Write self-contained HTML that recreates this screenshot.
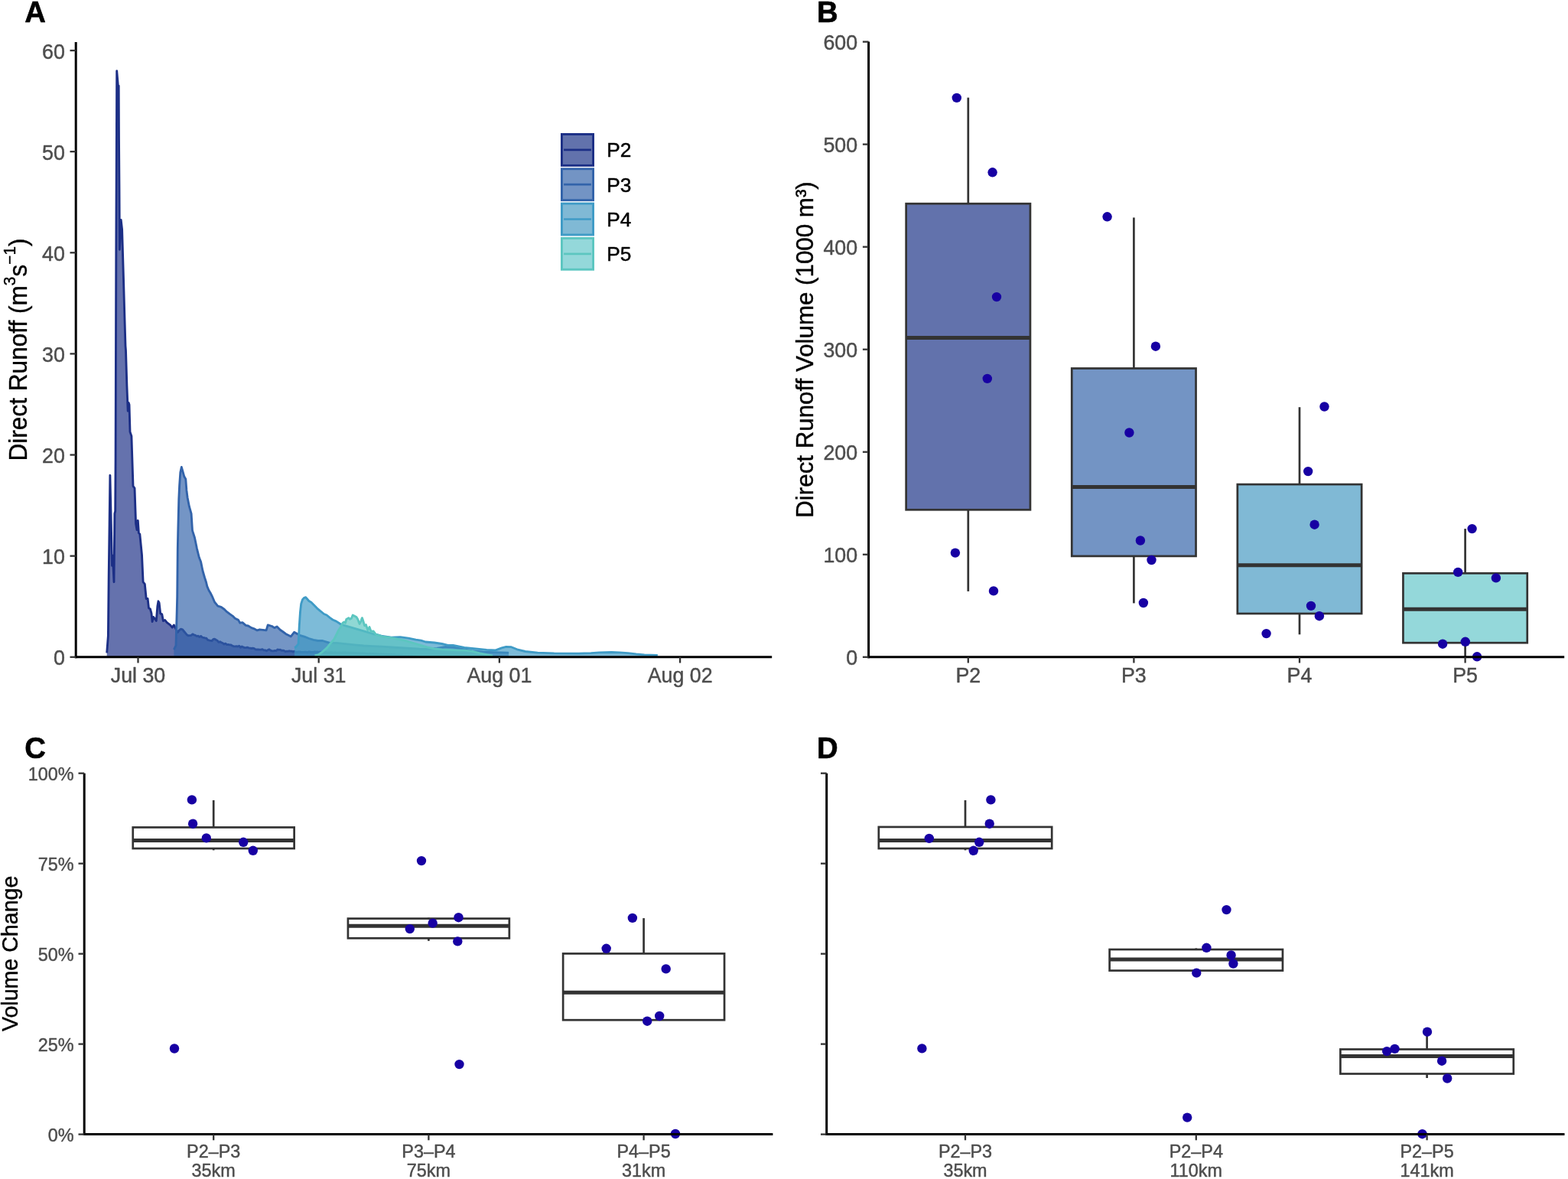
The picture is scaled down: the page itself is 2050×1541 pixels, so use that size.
<!DOCTYPE html>
<html><head><meta charset="utf-8"><title>Direct runoff figure</title>
<style>
html,body{margin:0;padding:0;background:#ffffff;}
svg{display:block;}
text{font-family:'Liberation Sans', Arial, Helvetica, sans-serif;}
</style></head>
<body>
<svg width="2050" height="1541" viewBox="0 0 2050 1541">
<rect x="0" y="0" width="2050" height="1541" fill="#ffffff"/>
<text x="32.30" y="29.20" font-size="38.3" text-anchor="start" fill="#000" stroke="#000" stroke-width="0.6" stroke-linejoin="round" font-weight="bold" >A</text>
<text x="1068.00" y="29.20" font-size="38.3" text-anchor="start" fill="#000" stroke="#000" stroke-width="0.6" stroke-linejoin="round" font-weight="bold" >B</text>
<text x="32.30" y="990.60" font-size="38.3" text-anchor="start" fill="#000" stroke="#000" stroke-width="0.6" stroke-linejoin="round" font-weight="bold" >C</text>
<text x="1068.00" y="990.60" font-size="38.3" text-anchor="start" fill="#000" stroke="#000" stroke-width="0.6" stroke-linejoin="round" font-weight="bold" >D</text>
<polygon points="139.7,858.8 139.7,853.3 141.4,831.2 142.2,753.0 143.1,685.0 143.9,621.3 145.3,685.0 146.5,739.4 147.3,725.8 149.0,760.7 149.9,671.4 150.7,668.0 151.1,600.0 151.8,340.0 152.7,92.7 154.3,111.2 155.2,112.0 155.5,181.2 156.0,248.7 156.4,326.3 158.2,287.5 159.6,300.0 161.6,368.3 162.9,415.0 164.0,452.0 164.5,458.2 165.9,504.5 167.2,537.2 168.1,526.3 169.0,529.0 170.0,564.5 171.9,569.9 174.0,635.3 176.0,638.1 177.6,684.4 179.0,692.6 180.3,680.3 181.4,696.7 182.8,698.0 185.5,725.3 187.1,760.7 189.3,763.4 191.2,782.5 193.1,782.5 194.5,794.8 196.4,796.0 198.0,801.6 199.1,812.5 200.6,806.5 202.1,808.3 204.3,811.5 205.9,792.2 207.0,785.8 208.1,787.9 209.7,801.9 211.8,802.9 213.4,811.5 215.6,810.4 218.2,813.7 222.5,816.9 225.2,820.1 227.4,816.9 229.0,820.1 232.2,826.5 234.3,823.9 236.5,822.2 238.7,822.9 240.8,825.5 242.6,827.7 244.3,829.7 246.1,830.8 248.0,830.6 249.9,830.5 251.8,828.9 253.7,829.8 255.5,830.4 257.3,831.6 259.0,831.2 260.8,832.6 262.6,831.4 264.4,833.0 266.2,833.5 268.0,833.9 269.8,834.2 271.5,836.3 273.3,836.9 275.1,837.3 276.9,837.7 278.7,835.7 280.5,835.1 282.3,836.3 284.1,837.2 285.9,839.4 287.7,838.8 289.5,839.9 291.2,840.5 293.0,842.1 294.8,841.1 296.6,842.6 298.4,842.5 300.2,842.8 302.0,842.9 303.7,843.9 305.5,844.8 307.3,844.8 309.1,844.7 310.9,845.1 312.7,844.2 314.5,846.2 316.3,845.0 318.1,845.9 319.9,846.6 321.7,846.5 323.5,846.2 325.2,846.8 327.0,847.1 328.8,847.5 330.6,847.2 332.4,847.6 334.1,848.8 335.9,849.0 337.7,849.0 339.5,849.1 341.3,849.2 343.1,848.7 344.9,849.9 346.6,849.8 348.4,850.8 350.2,849.6 352.0,848.8 353.8,850.1 355.6,850.8 357.4,850.9 359.2,850.5 361.0,850.7 362.8,849.0 364.5,849.4 366.3,849.1 368.1,850.3 369.9,850.1 371.7,850.7 373.3,851.7 374.9,851.1 376.5,851.4 378.1,850.8 379.8,851.2 381.4,851.1 383.0,852.0 384.6,851.2 386.0,852.0 388.0,852.4 390.0,852.0 392.0,852.0 393.6,852.2 395.2,852.3 396.8,852.3 398.4,852.1 400.0,852.2 401.7,852.7 403.3,852.0 405.0,852.0 406.7,852.3 408.3,852.4 410.0,852.2 411.7,851.8 413.3,852.3 415.0,852.0 416.7,852.6 418.3,852.0 420.0,852.5 421.7,852.8 423.3,852.8 425.0,852.3 426.7,852.7 428.3,853.0 430.0,853.0 431.7,852.7 433.3,852.7 435.0,852.8 436.7,853.2 438.3,852.7 440.0,853.2 441.7,853.0 443.3,852.8 445.0,853.0 446.7,853.3 448.3,852.7 450.0,853.0 451.7,852.7 453.3,853.3 455.0,852.9 456.7,853.4 458.3,853.2 460.0,853.2 461.7,853.1 463.3,853.7 465.0,853.4 466.7,853.6 468.3,853.6 470.0,853.6 471.7,854.1 473.3,853.7 475.0,853.9 476.7,853.9 478.3,854.2 480.0,854.4 481.7,854.6 483.3,854.1 485.0,854.7 486.7,854.3 488.3,854.4 490.0,854.6 491.7,854.6 493.3,855.0 495.0,855.0 496.7,855.3 498.3,854.7 500.0,855.4 501.7,855.0 503.3,855.5 505.0,855.1 506.7,855.9 508.3,855.4 510.0,855.8 511.7,855.5 513.3,856.1 515.0,855.7 516.7,856.0 518.3,856.5 520.0,856.7 521.7,856.4 523.3,856.8 525.0,856.7 526.7,857.2 528.3,857.4 530.0,857.2 531.7,857.8 533.3,857.5 535.0,857.6 536.7,858.0 538.3,857.5 540.0,858.1 541.7,857.9 543.3,858.1 545.0,858.4 545.0,858.8" fill="#1c2f86" fill-opacity="0.68"/>
<polyline points="139.7,853.3 141.4,831.2 142.2,753.0 143.1,685.0 143.9,621.3 145.3,685.0 146.5,739.4 147.3,725.8 149.0,760.7 149.9,671.4 150.7,668.0 151.1,600.0 151.8,340.0 152.7,92.7 154.3,111.2 155.2,112.0 155.5,181.2 156.0,248.7 156.4,326.3 158.2,287.5 159.6,300.0 161.6,368.3 162.9,415.0 164.0,452.0 164.5,458.2 165.9,504.5 167.2,537.2 168.1,526.3 169.0,529.0 170.0,564.5 171.9,569.9 174.0,635.3 176.0,638.1 177.6,684.4 179.0,692.6 180.3,680.3 181.4,696.7 182.8,698.0 185.5,725.3 187.1,760.7 189.3,763.4 191.2,782.5 193.1,782.5 194.5,794.8 196.4,796.0 198.0,801.6 199.1,812.5 200.6,806.5 202.1,808.3 204.3,811.5 205.9,792.2 207.0,785.8 208.1,787.9 209.7,801.9 211.8,802.9 213.4,811.5 215.6,810.4 218.2,813.7 222.5,816.9 225.2,820.1 227.4,816.9 229.0,820.1 232.2,826.5 234.3,823.9 236.5,822.2 238.7,822.9 240.8,825.5 242.6,827.7 244.3,829.7 246.1,830.8 248.0,830.6 249.9,830.5 251.8,828.9 253.7,829.8 255.5,830.4 257.3,831.6 259.0,831.2 260.8,832.6 262.6,831.4 264.4,833.0 266.2,833.5 268.0,833.9 269.8,834.2 271.5,836.3 273.3,836.9 275.1,837.3 276.9,837.7 278.7,835.7 280.5,835.1 282.3,836.3 284.1,837.2 285.9,839.4 287.7,838.8 289.5,839.9 291.2,840.5 293.0,842.1 294.8,841.1 296.6,842.6 298.4,842.5 300.2,842.8 302.0,842.9 303.7,843.9 305.5,844.8 307.3,844.8 309.1,844.7 310.9,845.1 312.7,844.2 314.5,846.2 316.3,845.0 318.1,845.9 319.9,846.6 321.7,846.5 323.5,846.2 325.2,846.8 327.0,847.1 328.8,847.5 330.6,847.2 332.4,847.6 334.1,848.8 335.9,849.0 337.7,849.0 339.5,849.1 341.3,849.2 343.1,848.7 344.9,849.9 346.6,849.8 348.4,850.8 350.2,849.6 352.0,848.8 353.8,850.1 355.6,850.8 357.4,850.9 359.2,850.5 361.0,850.7 362.8,849.0 364.5,849.4 366.3,849.1 368.1,850.3 369.9,850.1 371.7,850.7 373.3,851.7 374.9,851.1 376.5,851.4 378.1,850.8 379.8,851.2 381.4,851.1 383.0,852.0 384.6,851.2 386.0,852.0 388.0,852.4 390.0,852.0 392.0,852.0 393.6,852.2 395.2,852.3 396.8,852.3 398.4,852.1 400.0,852.2 401.7,852.7 403.3,852.0 405.0,852.0 406.7,852.3 408.3,852.4 410.0,852.2 411.7,851.8 413.3,852.3 415.0,852.0 416.7,852.6 418.3,852.0 420.0,852.5 421.7,852.8 423.3,852.8 425.0,852.3 426.7,852.7 428.3,853.0 430.0,853.0 431.7,852.7 433.3,852.7 435.0,852.8 436.7,853.2 438.3,852.7 440.0,853.2 441.7,853.0 443.3,852.8 445.0,853.0 446.7,853.3 448.3,852.7 450.0,853.0 451.7,852.7 453.3,853.3 455.0,852.9 456.7,853.4 458.3,853.2 460.0,853.2 461.7,853.1 463.3,853.7 465.0,853.4 466.7,853.6 468.3,853.6 470.0,853.6 471.7,854.1 473.3,853.7 475.0,853.9 476.7,853.9 478.3,854.2 480.0,854.4 481.7,854.6 483.3,854.1 485.0,854.7 486.7,854.3 488.3,854.4 490.0,854.6 491.7,854.6 493.3,855.0 495.0,855.0 496.7,855.3 498.3,854.7 500.0,855.4 501.7,855.0 503.3,855.5 505.0,855.1 506.7,855.9 508.3,855.4 510.0,855.8 511.7,855.5 513.3,856.1 515.0,855.7 516.7,856.0 518.3,856.5 520.0,856.7 521.7,856.4 523.3,856.8 525.0,856.7 526.7,857.2 528.3,857.4 530.0,857.2 531.7,857.8 533.3,857.5 535.0,857.6 536.7,858.0 538.3,857.5 540.0,858.1 541.7,857.9 543.3,858.1 545.0,858.4" fill="none" stroke="#1c2f86" stroke-width="2.85" stroke-linejoin="round" stroke-linecap="butt"/>
<polygon points="227.4,858.8 227.4,849.1 230.0,843.7 231.2,800.0 231.7,780.0 232.3,716.8 232.8,693.4 233.8,652.6 234.6,635.0 235.8,617.5 237.3,610.5 239.3,617.5 240.8,622.8 242.8,626.3 243.9,640.9 245.1,650.2 247.4,661.9 250.1,671.3 251.5,693.4 254.5,702.8 257.4,716.8 260.3,728.5 262.6,734.3 265.0,746.0 267.6,755.0 269.6,761.2 270.8,766.4 273.1,771.7 275.1,775.0 277.3,779.3 280.5,786.8 284.8,792.2 289.1,793.3 293.4,796.5 296.6,799.7 300.9,802.9 304.1,805.1 307.3,808.3 311.6,810.4 313.8,814.2 317.0,813.7 321.3,817.4 324.5,818.0 328.8,820.6 333.1,822.2 336.3,823.9 339.5,822.8 348.1,823.9 350.2,816.9 355.6,818.5 358.8,820.6 362.1,819.0 366.3,823.3 369.6,825.5 373.9,828.7 377.1,830.3 380.3,831.9 384.6,826.3 389.6,829.1 391.9,830.3 397.9,832.1 403.9,834.5 409.9,836.3 415.8,837.5 421.8,837.5 427.8,839.3 431.3,840.4 439.7,840.4 451.6,841.6 463.6,842.8 475.5,844.0 487.5,844.6 500.0,845.2 520.0,846.5 548.5,848.2 560.0,848.5 571.0,847.3 582.7,845.4 592.4,845.9 602.2,847.8 616.8,850.7 631.5,852.2 646.1,852.7 663.7,853.2 665.1,853.4 665.1,858.8" fill="#3263aa" fill-opacity="0.68"/>
<polyline points="227.4,849.1 230.0,843.7 231.2,800.0 231.7,780.0 232.3,716.8 232.8,693.4 233.8,652.6 234.6,635.0 235.8,617.5 237.3,610.5 239.3,617.5 240.8,622.8 242.8,626.3 243.9,640.9 245.1,650.2 247.4,661.9 250.1,671.3 251.5,693.4 254.5,702.8 257.4,716.8 260.3,728.5 262.6,734.3 265.0,746.0 267.6,755.0 269.6,761.2 270.8,766.4 273.1,771.7 275.1,775.0 277.3,779.3 280.5,786.8 284.8,792.2 289.1,793.3 293.4,796.5 296.6,799.7 300.9,802.9 304.1,805.1 307.3,808.3 311.6,810.4 313.8,814.2 317.0,813.7 321.3,817.4 324.5,818.0 328.8,820.6 333.1,822.2 336.3,823.9 339.5,822.8 348.1,823.9 350.2,816.9 355.6,818.5 358.8,820.6 362.1,819.0 366.3,823.3 369.6,825.5 373.9,828.7 377.1,830.3 380.3,831.9 384.6,826.3 389.6,829.1 391.9,830.3 397.9,832.1 403.9,834.5 409.9,836.3 415.8,837.5 421.8,837.5 427.8,839.3 431.3,840.4 439.7,840.4 451.6,841.6 463.6,842.8 475.5,844.0 487.5,844.6 500.0,845.2 520.0,846.5 548.5,848.2 560.0,848.5 571.0,847.3 582.7,845.4 592.4,845.9 602.2,847.8 616.8,850.7 631.5,852.2 646.1,852.7 663.7,853.2 665.1,853.4" fill="none" stroke="#3263aa" stroke-width="2.85" stroke-linejoin="round" stroke-linecap="butt"/>
<polygon points="385.1,858.8 385.1,846.4 387.2,845.2 390.1,841.6 391.3,817.8 392.5,799.9 393.7,789.1 395.5,783.7 397.3,781.6 399.7,780.7 401.5,782.8 403.9,785.5 406.9,787.3 409.9,790.3 414.6,795.1 418.8,798.7 423.6,802.5 427.2,804.0 431.3,807.3 434.9,810.0 439.7,812.1 445.7,816.0 451.6,817.8 457.6,819.6 463.6,821.3 469.6,823.1 475.5,824.9 481.5,826.7 487.5,828.5 493.4,829.7 500.0,831.5 511.5,833.2 523.2,832.7 533.9,834.1 543.7,836.1 550.5,837.1 556.3,839.0 568.0,840.0 577.8,841.5 585.6,843.4 592.4,843.4 607.1,846.3 616.8,847.3 626.6,848.3 636.3,849.3 648.0,849.8 655.9,846.8 661.7,845.4 668.5,845.7 676.1,848.8 686.8,851.5 702.9,853.1 724.4,853.8 756.6,854.1 772.7,853.6 783.4,852.9 799.5,852.5 810.2,852.9 821.0,853.6 831.7,854.9 842.4,855.8 858.5,856.3 859.6,857.0 859.6,858.8" fill="#3f9bc6" fill-opacity="0.68"/>
<polyline points="385.1,846.4 387.2,845.2 390.1,841.6 391.3,817.8 392.5,799.9 393.7,789.1 395.5,783.7 397.3,781.6 399.7,780.7 401.5,782.8 403.9,785.5 406.9,787.3 409.9,790.3 414.6,795.1 418.8,798.7 423.6,802.5 427.2,804.0 431.3,807.3 434.9,810.0 439.7,812.1 445.7,816.0 451.6,817.8 457.6,819.6 463.6,821.3 469.6,823.1 475.5,824.9 481.5,826.7 487.5,828.5 493.4,829.7 500.0,831.5 511.5,833.2 523.2,832.7 533.9,834.1 543.7,836.1 550.5,837.1 556.3,839.0 568.0,840.0 577.8,841.5 585.6,843.4 592.4,843.4 607.1,846.3 616.8,847.3 626.6,848.3 636.3,849.3 648.0,849.8 655.9,846.8 661.7,845.4 668.5,845.7 676.1,848.8 686.8,851.5 702.9,853.1 724.4,853.8 756.6,854.1 772.7,853.6 783.4,852.9 799.5,852.5 810.2,852.9 821.0,853.6 831.7,854.9 842.4,855.8 858.5,856.3 859.6,857.0" fill="none" stroke="#3f9bc6" stroke-width="2.85" stroke-linejoin="round" stroke-linecap="butt"/>
<polygon points="411.6,858.8 411.6,856.6 415.8,856.0 421.8,851.8 427.8,846.4 432.5,840.4 436.7,835.7 439.7,829.7 442.7,823.7 445.7,819.0 448.1,814.2 449.9,813.0 451.6,814.2 452.8,809.4 455.8,807.6 457.6,809.4 459.4,808.2 461.2,804.0 463.6,805.2 466.0,806.4 467.8,809.4 470.1,815.4 471.9,811.8 473.4,807.6 474.9,811.8 476.7,817.8 478.5,816.6 480.9,823.7 483.0,819.6 485.1,825.5 488.1,824.9 490.4,827.9 492.2,829.7 496.4,830.9 500.0,832.1 509.5,833.2 519.3,835.1 529.0,837.1 538.8,840.0 548.5,842.9 558.3,845.9 568.0,847.8 577.8,848.8 587.6,849.3 597.3,849.8 607.1,850.2 616.8,851.2 626.6,853.7 636.3,855.6 644.1,857.1 644.1,858.8" fill="#5cc6c0" fill-opacity="0.68"/>
<polyline points="411.6,856.6 415.8,856.0 421.8,851.8 427.8,846.4 432.5,840.4 436.7,835.7 439.7,829.7 442.7,823.7 445.7,819.0 448.1,814.2 449.9,813.0 451.6,814.2 452.8,809.4 455.8,807.6 457.6,809.4 459.4,808.2 461.2,804.0 463.6,805.2 466.0,806.4 467.8,809.4 470.1,815.4 471.9,811.8 473.4,807.6 474.9,811.8 476.7,817.8 478.5,816.6 480.9,823.7 483.0,819.6 485.1,825.5 488.1,824.9 490.4,827.9 492.2,829.7 496.4,830.9 500.0,832.1 509.5,833.2 519.3,835.1 529.0,837.1 538.8,840.0 548.5,842.9 558.3,845.9 568.0,847.8 577.8,848.8 587.6,849.3 597.3,849.8 607.1,850.2 616.8,851.2 626.6,853.7 636.3,855.6 644.1,857.1" fill="none" stroke="#5cc6c0" stroke-width="2.85" stroke-linejoin="round" stroke-linecap="butt"/>
<line x1="99.20" y1="55.00" x2="99.20" y2="860.15" stroke="#000" stroke-width="3.0" stroke-linecap="butt"/>
<line x1="97.85" y1="858.80" x2="1009.20" y2="858.80" stroke="#000" stroke-width="3.0" stroke-linecap="butt"/>
<line x1="91.50" y1="858.80" x2="99.20" y2="858.80" stroke="#333" stroke-width="2.3" stroke-linecap="butt"/>
<text x="84.80" y="869.40" font-size="26.8" text-anchor="end" fill="#4d4d4d" stroke="#4d4d4d" stroke-width="0.45" stroke-linejoin="round" font-weight="normal" >0</text>
<line x1="91.50" y1="726.67" x2="99.20" y2="726.67" stroke="#333" stroke-width="2.3" stroke-linecap="butt"/>
<text x="84.80" y="737.27" font-size="26.8" text-anchor="end" fill="#4d4d4d" stroke="#4d4d4d" stroke-width="0.45" stroke-linejoin="round" font-weight="normal" >10</text>
<line x1="91.50" y1="594.54" x2="99.20" y2="594.54" stroke="#333" stroke-width="2.3" stroke-linecap="butt"/>
<text x="84.80" y="605.14" font-size="26.8" text-anchor="end" fill="#4d4d4d" stroke="#4d4d4d" stroke-width="0.45" stroke-linejoin="round" font-weight="normal" >20</text>
<line x1="91.50" y1="462.41" x2="99.20" y2="462.41" stroke="#333" stroke-width="2.3" stroke-linecap="butt"/>
<text x="84.80" y="473.01" font-size="26.8" text-anchor="end" fill="#4d4d4d" stroke="#4d4d4d" stroke-width="0.45" stroke-linejoin="round" font-weight="normal" >30</text>
<line x1="91.50" y1="330.28" x2="99.20" y2="330.28" stroke="#333" stroke-width="2.3" stroke-linecap="butt"/>
<text x="84.80" y="340.88" font-size="26.8" text-anchor="end" fill="#4d4d4d" stroke="#4d4d4d" stroke-width="0.45" stroke-linejoin="round" font-weight="normal" >40</text>
<line x1="91.50" y1="198.15" x2="99.20" y2="198.15" stroke="#333" stroke-width="2.3" stroke-linecap="butt"/>
<text x="84.80" y="208.75" font-size="26.8" text-anchor="end" fill="#4d4d4d" stroke="#4d4d4d" stroke-width="0.45" stroke-linejoin="round" font-weight="normal" >50</text>
<line x1="91.50" y1="66.02" x2="99.20" y2="66.02" stroke="#333" stroke-width="2.3" stroke-linecap="butt"/>
<text x="84.80" y="76.62" font-size="26.8" text-anchor="end" fill="#4d4d4d" stroke="#4d4d4d" stroke-width="0.45" stroke-linejoin="round" font-weight="normal" >60</text>
<line x1="180.50" y1="858.80" x2="180.50" y2="866.50" stroke="#333" stroke-width="2.3" stroke-linecap="butt"/>
<text x="180.50" y="892.10" font-size="26.8" text-anchor="middle" fill="#4d4d4d" stroke="#4d4d4d" stroke-width="0.45" stroke-linejoin="round" font-weight="normal" >Jul 30</text>
<line x1="416.70" y1="858.80" x2="416.70" y2="866.50" stroke="#333" stroke-width="2.3" stroke-linecap="butt"/>
<text x="416.70" y="892.10" font-size="26.8" text-anchor="middle" fill="#4d4d4d" stroke="#4d4d4d" stroke-width="0.45" stroke-linejoin="round" font-weight="normal" >Jul 31</text>
<line x1="652.90" y1="858.80" x2="652.90" y2="866.50" stroke="#333" stroke-width="2.3" stroke-linecap="butt"/>
<text x="652.90" y="892.10" font-size="26.8" text-anchor="middle" fill="#4d4d4d" stroke="#4d4d4d" stroke-width="0.45" stroke-linejoin="round" font-weight="normal" >Aug 01</text>
<line x1="889.10" y1="858.80" x2="889.10" y2="866.50" stroke="#333" stroke-width="2.3" stroke-linecap="butt"/>
<text x="889.10" y="892.10" font-size="26.8" text-anchor="middle" fill="#4d4d4d" stroke="#4d4d4d" stroke-width="0.45" stroke-linejoin="round" font-weight="normal" >Aug 02</text>
<text transform="translate(35.0,457.0) rotate(-90) scale(1,1.03)" font-size="31.6" text-anchor="middle" fill="#000" stroke="#000" stroke-width="0.4" stroke-linejoin="round">Direct Runoff (m<tspan dy="-15.0" font-size="20.8">3</tspan><tspan dy="15.0">s</tspan><tspan dy="-15.0" font-size="20.8">−1</tspan><tspan dy="15.0">)</tspan></text>
<rect x="734.45" y="175.45" width="41.1" height="40.9" fill="#6272ac" stroke="#1c2f86" stroke-width="2.9"/>
<line x1="737.10" y1="195.90" x2="772.90" y2="195.90" stroke="#1c2f86" stroke-width="2.7" stroke-linecap="butt"/>
<text x="793.20" y="205.40" font-size="26.3" text-anchor="start" fill="#000" stroke="#000" stroke-width="0.45" stroke-linejoin="round" font-weight="normal" >P2</text>
<rect x="734.45" y="220.75" width="41.1" height="40.9" fill="#7394c4" stroke="#3263aa" stroke-width="2.9"/>
<line x1="737.10" y1="241.20" x2="772.90" y2="241.20" stroke="#3263aa" stroke-width="2.7" stroke-linecap="butt"/>
<text x="793.20" y="250.70" font-size="26.3" text-anchor="start" fill="#000" stroke="#000" stroke-width="0.45" stroke-linejoin="round" font-weight="normal" >P3</text>
<rect x="734.45" y="266.05" width="41.1" height="40.9" fill="#80b9d5" stroke="#3f9bc6" stroke-width="2.9"/>
<line x1="737.10" y1="286.50" x2="772.90" y2="286.50" stroke="#3f9bc6" stroke-width="2.7" stroke-linecap="butt"/>
<text x="793.20" y="296.00" font-size="26.3" text-anchor="start" fill="#000" stroke="#000" stroke-width="0.45" stroke-linejoin="round" font-weight="normal" >P4</text>
<rect x="734.45" y="311.35" width="41.1" height="40.9" fill="#94d8da" stroke="#5cc6c0" stroke-width="2.9"/>
<line x1="737.10" y1="331.80" x2="772.90" y2="331.80" stroke="#5cc6c0" stroke-width="2.7" stroke-linecap="butt"/>
<text x="793.20" y="341.30" font-size="26.3" text-anchor="start" fill="#000" stroke="#000" stroke-width="0.45" stroke-linejoin="round" font-weight="normal" >P5</text>
<line x1="1265.80" y1="127.60" x2="1265.80" y2="266.20" stroke="#333333" stroke-width="2.7" stroke-linecap="butt"/>
<line x1="1265.80" y1="666.30" x2="1265.80" y2="772.90" stroke="#333333" stroke-width="2.7" stroke-linecap="butt"/>
<rect x="1184.65" y="266.20" width="162.30" height="400.10" fill="#6272ac" stroke="#333333" stroke-width="2.7"/>
<line x1="1184.65" y1="441.50" x2="1346.95" y2="441.50" stroke="#333333" stroke-width="5.0" stroke-linecap="butt"/>
<line x1="1482.40" y1="284.40" x2="1482.40" y2="481.50" stroke="#333333" stroke-width="2.7" stroke-linecap="butt"/>
<line x1="1482.40" y1="726.90" x2="1482.40" y2="788.40" stroke="#333333" stroke-width="2.7" stroke-linecap="butt"/>
<rect x="1401.25" y="481.50" width="162.30" height="245.40" fill="#7394c4" stroke="#333333" stroke-width="2.7"/>
<line x1="1401.25" y1="636.40" x2="1563.55" y2="636.40" stroke="#333333" stroke-width="5.0" stroke-linecap="butt"/>
<line x1="1699.00" y1="532.20" x2="1699.00" y2="633.10" stroke="#333333" stroke-width="2.7" stroke-linecap="butt"/>
<line x1="1699.00" y1="802.00" x2="1699.00" y2="829.30" stroke="#333333" stroke-width="2.7" stroke-linecap="butt"/>
<rect x="1617.85" y="633.10" width="162.30" height="168.90" fill="#80b9d5" stroke="#333333" stroke-width="2.7"/>
<line x1="1617.85" y1="738.70" x2="1780.15" y2="738.70" stroke="#333333" stroke-width="5.0" stroke-linecap="butt"/>
<line x1="1915.60" y1="691.10" x2="1915.60" y2="749.30" stroke="#333333" stroke-width="2.7" stroke-linecap="butt"/>
<line x1="1915.60" y1="840.20" x2="1915.60" y2="858.80" stroke="#333333" stroke-width="2.7" stroke-linecap="butt"/>
<rect x="1834.45" y="749.30" width="162.30" height="90.90" fill="#94d8da" stroke="#333333" stroke-width="2.7"/>
<line x1="1834.45" y1="796.30" x2="1996.75" y2="796.30" stroke="#333333" stroke-width="5.0" stroke-linecap="butt"/>
<circle cx="1250.8" cy="127.9" r="6.2" fill="#1700a3"/>
<circle cx="1297.6" cy="225.3" r="6.2" fill="#1700a3"/>
<circle cx="1303.0" cy="388.1" r="6.2" fill="#1700a3"/>
<circle cx="1290.8" cy="494.9" r="6.2" fill="#1700a3"/>
<circle cx="1248.9" cy="722.6" r="6.2" fill="#1700a3"/>
<circle cx="1299.0" cy="772.4" r="6.2" fill="#1700a3"/>
<circle cx="1447.6" cy="283.3" r="6.2" fill="#1700a3"/>
<circle cx="1510.9" cy="452.7" r="6.2" fill="#1700a3"/>
<circle cx="1476.4" cy="565.5" r="6.2" fill="#1700a3"/>
<circle cx="1490.9" cy="706.5" r="6.2" fill="#1700a3"/>
<circle cx="1505.5" cy="732.0" r="6.2" fill="#1700a3"/>
<circle cx="1494.9" cy="788.0" r="6.2" fill="#1700a3"/>
<circle cx="1731.5" cy="531.5" r="6.2" fill="#1700a3"/>
<circle cx="1710.2" cy="616.1" r="6.2" fill="#1700a3"/>
<circle cx="1718.6" cy="685.7" r="6.2" fill="#1700a3"/>
<circle cx="1714.0" cy="791.9" r="6.2" fill="#1700a3"/>
<circle cx="1724.9" cy="805.2" r="6.2" fill="#1700a3"/>
<circle cx="1655.6" cy="828.1" r="6.2" fill="#1700a3"/>
<circle cx="1924.6" cy="691.1" r="6.2" fill="#1700a3"/>
<circle cx="1906.2" cy="747.9" r="6.2" fill="#1700a3"/>
<circle cx="1955.9" cy="755.4" r="6.2" fill="#1700a3"/>
<circle cx="1886.1" cy="841.7" r="6.2" fill="#1700a3"/>
<circle cx="1915.8" cy="838.8" r="6.2" fill="#1700a3"/>
<circle cx="1931.1" cy="858.3" r="6.2" fill="#1700a3"/>
<line x1="1135.60" y1="54.60" x2="1135.60" y2="860.15" stroke="#000" stroke-width="3.0" stroke-linecap="butt"/>
<line x1="1134.25" y1="858.80" x2="2045.20" y2="858.80" stroke="#000" stroke-width="3.0" stroke-linecap="butt"/>
<line x1="1127.90" y1="858.80" x2="1135.60" y2="858.80" stroke="#333" stroke-width="2.3" stroke-linecap="butt"/>
<text x="1121.10" y="869.40" font-size="26.8" text-anchor="end" fill="#4d4d4d" stroke="#4d4d4d" stroke-width="0.45" stroke-linejoin="round" font-weight="normal" >0</text>
<line x1="1127.90" y1="724.77" x2="1135.60" y2="724.77" stroke="#333" stroke-width="2.3" stroke-linecap="butt"/>
<text x="1121.10" y="735.37" font-size="26.8" text-anchor="end" fill="#4d4d4d" stroke="#4d4d4d" stroke-width="0.45" stroke-linejoin="round" font-weight="normal" >100</text>
<line x1="1127.90" y1="590.73" x2="1135.60" y2="590.73" stroke="#333" stroke-width="2.3" stroke-linecap="butt"/>
<text x="1121.10" y="601.33" font-size="26.8" text-anchor="end" fill="#4d4d4d" stroke="#4d4d4d" stroke-width="0.45" stroke-linejoin="round" font-weight="normal" >200</text>
<line x1="1127.90" y1="456.70" x2="1135.60" y2="456.70" stroke="#333" stroke-width="2.3" stroke-linecap="butt"/>
<text x="1121.10" y="467.30" font-size="26.8" text-anchor="end" fill="#4d4d4d" stroke="#4d4d4d" stroke-width="0.45" stroke-linejoin="round" font-weight="normal" >300</text>
<line x1="1127.90" y1="322.67" x2="1135.60" y2="322.67" stroke="#333" stroke-width="2.3" stroke-linecap="butt"/>
<text x="1121.10" y="333.27" font-size="26.8" text-anchor="end" fill="#4d4d4d" stroke="#4d4d4d" stroke-width="0.45" stroke-linejoin="round" font-weight="normal" >400</text>
<line x1="1127.90" y1="188.63" x2="1135.60" y2="188.63" stroke="#333" stroke-width="2.3" stroke-linecap="butt"/>
<text x="1121.10" y="199.23" font-size="26.8" text-anchor="end" fill="#4d4d4d" stroke="#4d4d4d" stroke-width="0.45" stroke-linejoin="round" font-weight="normal" >500</text>
<line x1="1127.90" y1="54.60" x2="1135.60" y2="54.60" stroke="#333" stroke-width="2.3" stroke-linecap="butt"/>
<text x="1121.10" y="65.20" font-size="26.8" text-anchor="end" fill="#4d4d4d" stroke="#4d4d4d" stroke-width="0.45" stroke-linejoin="round" font-weight="normal" >600</text>
<line x1="1265.80" y1="858.80" x2="1265.80" y2="866.50" stroke="#333" stroke-width="2.3" stroke-linecap="butt"/>
<text x="1265.80" y="892.20" font-size="26.8" text-anchor="middle" fill="#4d4d4d" stroke="#4d4d4d" stroke-width="0.45" stroke-linejoin="round" font-weight="normal" >P2</text>
<line x1="1482.40" y1="858.80" x2="1482.40" y2="866.50" stroke="#333" stroke-width="2.3" stroke-linecap="butt"/>
<text x="1482.40" y="892.20" font-size="26.8" text-anchor="middle" fill="#4d4d4d" stroke="#4d4d4d" stroke-width="0.45" stroke-linejoin="round" font-weight="normal" >P3</text>
<line x1="1699.00" y1="858.80" x2="1699.00" y2="866.50" stroke="#333" stroke-width="2.3" stroke-linecap="butt"/>
<text x="1699.00" y="892.20" font-size="26.8" text-anchor="middle" fill="#4d4d4d" stroke="#4d4d4d" stroke-width="0.45" stroke-linejoin="round" font-weight="normal" >P4</text>
<line x1="1915.60" y1="858.80" x2="1915.60" y2="866.50" stroke="#333" stroke-width="2.3" stroke-linecap="butt"/>
<text x="1915.60" y="892.20" font-size="26.8" text-anchor="middle" fill="#4d4d4d" stroke="#4d4d4d" stroke-width="0.45" stroke-linejoin="round" font-weight="normal" >P5</text>
<text transform="translate(1062.6,457.0) rotate(-90) scale(1,1.03)" font-size="31.3" text-anchor="middle" fill="#000" stroke="#000" stroke-width="0.4" stroke-linejoin="round">Direct Runoff Volume (1000 m³)</text>
<line x1="279.20" y1="1045.90" x2="279.20" y2="1081.40" stroke="#333333" stroke-width="2.7" stroke-linecap="butt"/>
<line x1="279.20" y1="1109.00" x2="279.20" y2="1111.30" stroke="#333333" stroke-width="2.7" stroke-linecap="butt"/>
<rect x="173.75" y="1081.40" width="210.90" height="27.60" fill="#ffffff" stroke="#333333" stroke-width="2.7"/>
<line x1="173.75" y1="1098.50" x2="384.65" y2="1098.50" stroke="#333333" stroke-width="5.0" stroke-linecap="butt"/>
<line x1="560.40" y1="1199.60" x2="560.40" y2="1200.60" stroke="#333333" stroke-width="2.7" stroke-linecap="butt"/>
<line x1="560.40" y1="1226.30" x2="560.40" y2="1229.80" stroke="#333333" stroke-width="2.7" stroke-linecap="butt"/>
<rect x="454.95" y="1200.60" width="210.90" height="25.70" fill="#ffffff" stroke="#333333" stroke-width="2.7"/>
<line x1="454.95" y1="1210.20" x2="665.85" y2="1210.20" stroke="#333333" stroke-width="5.0" stroke-linecap="butt"/>
<line x1="841.60" y1="1200.10" x2="841.60" y2="1246.40" stroke="#333333" stroke-width="2.7" stroke-linecap="butt"/>
<line x1="841.60" y1="1333.20" x2="841.60" y2="1335.00" stroke="#333333" stroke-width="2.7" stroke-linecap="butt"/>
<rect x="736.15" y="1246.40" width="210.90" height="86.80" fill="#ffffff" stroke="#333333" stroke-width="2.7"/>
<line x1="736.15" y1="1297.30" x2="947.05" y2="1297.30" stroke="#333333" stroke-width="5.0" stroke-linecap="butt"/>
<circle cx="250.9" cy="1045.4" r="6.2" fill="#1700a3"/>
<circle cx="252.1" cy="1076.7" r="6.2" fill="#1700a3"/>
<circle cx="269.8" cy="1095.4" r="6.2" fill="#1700a3"/>
<circle cx="318.2" cy="1100.8" r="6.2" fill="#1700a3"/>
<circle cx="330.8" cy="1111.8" r="6.2" fill="#1700a3"/>
<circle cx="228.0" cy="1370.5" r="6.2" fill="#1700a3"/>
<circle cx="551.0" cy="1125.1" r="6.2" fill="#1700a3"/>
<circle cx="535.8" cy="1214.1" r="6.2" fill="#1700a3"/>
<circle cx="565.7" cy="1206.6" r="6.2" fill="#1700a3"/>
<circle cx="599.5" cy="1199.2" r="6.2" fill="#1700a3"/>
<circle cx="598.3" cy="1230.4" r="6.2" fill="#1700a3"/>
<circle cx="600.5" cy="1391.1" r="6.2" fill="#1700a3"/>
<circle cx="826.9" cy="1199.9" r="6.2" fill="#1700a3"/>
<circle cx="792.7" cy="1239.8" r="6.2" fill="#1700a3"/>
<circle cx="870.7" cy="1266.4" r="6.2" fill="#1700a3"/>
<circle cx="862.2" cy="1328.0" r="6.2" fill="#1700a3"/>
<circle cx="846.2" cy="1334.7" r="6.2" fill="#1700a3"/>
<circle cx="883.0" cy="1482.0" r="6.2" fill="#1700a3"/>
<line x1="110.20" y1="1010.70" x2="110.20" y2="1483.95" stroke="#000" stroke-width="3.0" stroke-linecap="butt"/>
<line x1="108.85" y1="1482.60" x2="1010.40" y2="1482.60" stroke="#000" stroke-width="3.0" stroke-linecap="butt"/>
<line x1="102.50" y1="1482.60" x2="110.20" y2="1482.60" stroke="#333" stroke-width="2.3" stroke-linecap="butt"/>
<text x="96.50" y="1491.70" font-size="23.4" text-anchor="end" fill="#4d4d4d" stroke="#4d4d4d" stroke-width="0.45" stroke-linejoin="round" font-weight="normal" >0%</text>
<line x1="102.50" y1="1364.62" x2="110.20" y2="1364.62" stroke="#333" stroke-width="2.3" stroke-linecap="butt"/>
<text x="96.50" y="1373.72" font-size="23.4" text-anchor="end" fill="#4d4d4d" stroke="#4d4d4d" stroke-width="0.45" stroke-linejoin="round" font-weight="normal" >25%</text>
<line x1="102.50" y1="1246.65" x2="110.20" y2="1246.65" stroke="#333" stroke-width="2.3" stroke-linecap="butt"/>
<text x="96.50" y="1255.75" font-size="23.4" text-anchor="end" fill="#4d4d4d" stroke="#4d4d4d" stroke-width="0.45" stroke-linejoin="round" font-weight="normal" >50%</text>
<line x1="102.50" y1="1128.67" x2="110.20" y2="1128.67" stroke="#333" stroke-width="2.3" stroke-linecap="butt"/>
<text x="96.50" y="1137.77" font-size="23.4" text-anchor="end" fill="#4d4d4d" stroke="#4d4d4d" stroke-width="0.45" stroke-linejoin="round" font-weight="normal" >75%</text>
<line x1="102.50" y1="1010.70" x2="110.20" y2="1010.70" stroke="#333" stroke-width="2.3" stroke-linecap="butt"/>
<text x="96.50" y="1019.80" font-size="23.4" text-anchor="end" fill="#4d4d4d" stroke="#4d4d4d" stroke-width="0.45" stroke-linejoin="round" font-weight="normal" >100%</text>
<line x1="279.20" y1="1482.60" x2="279.20" y2="1490.30" stroke="#333" stroke-width="2.3" stroke-linecap="butt"/>
<text x="279.20" y="1512.60" font-size="23.4" text-anchor="middle" fill="#4d4d4d" stroke="#4d4d4d" stroke-width="0.45" stroke-linejoin="round" font-weight="normal" >P2–P3</text>
<text x="279.20" y="1537.90" font-size="23.4" text-anchor="middle" fill="#4d4d4d" stroke="#4d4d4d" stroke-width="0.45" stroke-linejoin="round" font-weight="normal" >35km</text>
<line x1="560.40" y1="1482.60" x2="560.40" y2="1490.30" stroke="#333" stroke-width="2.3" stroke-linecap="butt"/>
<text x="560.40" y="1512.60" font-size="23.4" text-anchor="middle" fill="#4d4d4d" stroke="#4d4d4d" stroke-width="0.45" stroke-linejoin="round" font-weight="normal" >P3–P4</text>
<text x="560.40" y="1537.90" font-size="23.4" text-anchor="middle" fill="#4d4d4d" stroke="#4d4d4d" stroke-width="0.45" stroke-linejoin="round" font-weight="normal" >75km</text>
<line x1="841.60" y1="1482.60" x2="841.60" y2="1490.30" stroke="#333" stroke-width="2.3" stroke-linecap="butt"/>
<text x="841.60" y="1512.60" font-size="23.4" text-anchor="middle" fill="#4d4d4d" stroke="#4d4d4d" stroke-width="0.45" stroke-linejoin="round" font-weight="normal" >P4–P5</text>
<text x="841.60" y="1537.90" font-size="23.4" text-anchor="middle" fill="#4d4d4d" stroke="#4d4d4d" stroke-width="0.45" stroke-linejoin="round" font-weight="normal" >31km</text>
<line x1="1262.00" y1="1045.90" x2="1262.00" y2="1080.90" stroke="#333333" stroke-width="2.7" stroke-linecap="butt"/>
<line x1="1262.00" y1="1109.00" x2="1262.00" y2="1111.30" stroke="#333333" stroke-width="2.7" stroke-linecap="butt"/>
<rect x="1148.83" y="1080.90" width="226.35" height="28.10" fill="#ffffff" stroke="#333333" stroke-width="2.7"/>
<line x1="1148.83" y1="1098.50" x2="1375.17" y2="1098.50" stroke="#333333" stroke-width="5.0" stroke-linecap="butt"/>
<line x1="1563.80" y1="1239.40" x2="1563.80" y2="1241.00" stroke="#333333" stroke-width="2.7" stroke-linecap="butt"/>
<line x1="1563.80" y1="1268.60" x2="1563.80" y2="1270.00" stroke="#333333" stroke-width="2.7" stroke-linecap="butt"/>
<rect x="1450.62" y="1241.00" width="226.35" height="27.60" fill="#ffffff" stroke="#333333" stroke-width="2.7"/>
<line x1="1450.62" y1="1253.90" x2="1676.97" y2="1253.90" stroke="#333333" stroke-width="5.0" stroke-linecap="butt"/>
<line x1="1865.60" y1="1348.90" x2="1865.60" y2="1371.50" stroke="#333333" stroke-width="2.7" stroke-linecap="butt"/>
<line x1="1865.60" y1="1403.50" x2="1865.60" y2="1409.00" stroke="#333333" stroke-width="2.7" stroke-linecap="butt"/>
<rect x="1752.42" y="1371.50" width="226.35" height="32.00" fill="#ffffff" stroke="#333333" stroke-width="2.7"/>
<line x1="1752.42" y1="1380.40" x2="1978.77" y2="1380.40" stroke="#333333" stroke-width="5.0" stroke-linecap="butt"/>
<circle cx="1295.4" cy="1045.4" r="6.2" fill="#1700a3"/>
<circle cx="1293.7" cy="1076.7" r="6.2" fill="#1700a3"/>
<circle cx="1214.8" cy="1095.9" r="6.2" fill="#1700a3"/>
<circle cx="1280.2" cy="1100.8" r="6.2" fill="#1700a3"/>
<circle cx="1272.7" cy="1111.8" r="6.2" fill="#1700a3"/>
<circle cx="1205.4" cy="1370.4" r="6.2" fill="#1700a3"/>
<circle cx="1603.5" cy="1189.1" r="6.2" fill="#1700a3"/>
<circle cx="1577.4" cy="1238.8" r="6.2" fill="#1700a3"/>
<circle cx="1609.6" cy="1248.4" r="6.2" fill="#1700a3"/>
<circle cx="1612.4" cy="1259.5" r="6.2" fill="#1700a3"/>
<circle cx="1564.3" cy="1271.6" r="6.2" fill="#1700a3"/>
<circle cx="1552.2" cy="1460.6" r="6.2" fill="#1700a3"/>
<circle cx="1866.0" cy="1348.7" r="6.2" fill="#1700a3"/>
<circle cx="1813.2" cy="1374.1" r="6.2" fill="#1700a3"/>
<circle cx="1823.5" cy="1370.9" r="6.2" fill="#1700a3"/>
<circle cx="1885.1" cy="1386.7" r="6.2" fill="#1700a3"/>
<circle cx="1892.2" cy="1409.5" r="6.2" fill="#1700a3"/>
<circle cx="1859.5" cy="1482.2" r="6.2" fill="#1700a3"/>
<line x1="1080.70" y1="1010.70" x2="1080.70" y2="1483.95" stroke="#000" stroke-width="3.0" stroke-linecap="butt"/>
<line x1="1079.35" y1="1482.60" x2="2045.50" y2="1482.60" stroke="#000" stroke-width="3.0" stroke-linecap="butt"/>
<line x1="1073.00" y1="1482.60" x2="1080.70" y2="1482.60" stroke="#333" stroke-width="2.3" stroke-linecap="butt"/>
<line x1="1073.00" y1="1364.62" x2="1080.70" y2="1364.62" stroke="#333" stroke-width="2.3" stroke-linecap="butt"/>
<line x1="1073.00" y1="1246.65" x2="1080.70" y2="1246.65" stroke="#333" stroke-width="2.3" stroke-linecap="butt"/>
<line x1="1073.00" y1="1128.67" x2="1080.70" y2="1128.67" stroke="#333" stroke-width="2.3" stroke-linecap="butt"/>
<line x1="1073.00" y1="1010.70" x2="1080.70" y2="1010.70" stroke="#333" stroke-width="2.3" stroke-linecap="butt"/>
<line x1="1262.00" y1="1482.60" x2="1262.00" y2="1490.30" stroke="#333" stroke-width="2.3" stroke-linecap="butt"/>
<text x="1262.00" y="1512.60" font-size="23.4" text-anchor="middle" fill="#4d4d4d" stroke="#4d4d4d" stroke-width="0.45" stroke-linejoin="round" font-weight="normal" >P2–P3</text>
<text x="1262.00" y="1537.90" font-size="23.4" text-anchor="middle" fill="#4d4d4d" stroke="#4d4d4d" stroke-width="0.45" stroke-linejoin="round" font-weight="normal" >35km</text>
<line x1="1563.80" y1="1482.60" x2="1563.80" y2="1490.30" stroke="#333" stroke-width="2.3" stroke-linecap="butt"/>
<text x="1563.80" y="1512.60" font-size="23.4" text-anchor="middle" fill="#4d4d4d" stroke="#4d4d4d" stroke-width="0.45" stroke-linejoin="round" font-weight="normal" >P2–P4</text>
<text x="1563.80" y="1537.90" font-size="23.4" text-anchor="middle" fill="#4d4d4d" stroke="#4d4d4d" stroke-width="0.45" stroke-linejoin="round" font-weight="normal" >110km</text>
<line x1="1865.60" y1="1482.60" x2="1865.60" y2="1490.30" stroke="#333" stroke-width="2.3" stroke-linecap="butt"/>
<text x="1865.60" y="1512.60" font-size="23.4" text-anchor="middle" fill="#4d4d4d" stroke="#4d4d4d" stroke-width="0.45" stroke-linejoin="round" font-weight="normal" >P2–P5</text>
<text x="1865.60" y="1537.90" font-size="23.4" text-anchor="middle" fill="#4d4d4d" stroke="#4d4d4d" stroke-width="0.45" stroke-linejoin="round" font-weight="normal" >141km</text>
<text transform="translate(23.2,1246.4) rotate(-90) scale(1,1.02)" font-size="28.6" text-anchor="middle" fill="#000" stroke="#000" stroke-width="0.4" stroke-linejoin="round">Volume Change</text>
</svg>
</body></html>
